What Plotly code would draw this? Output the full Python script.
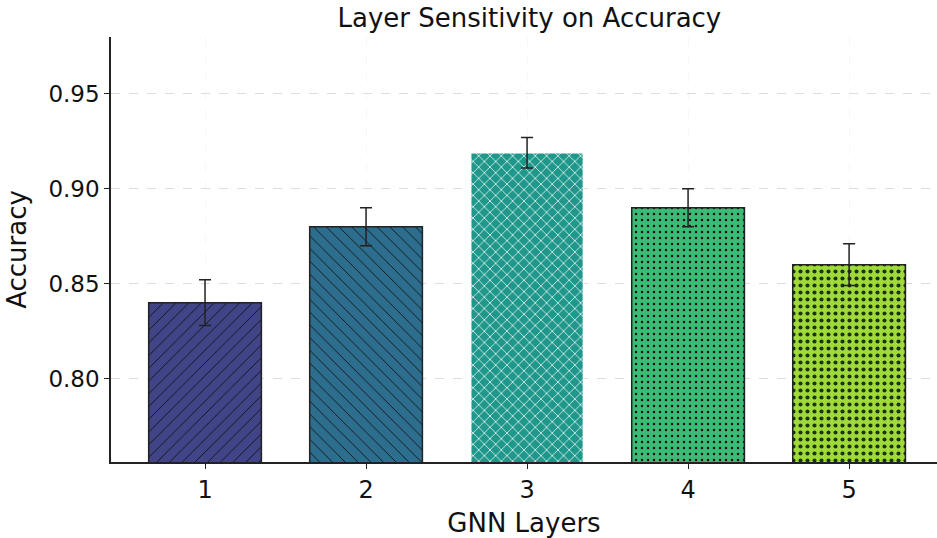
import plotly.graph_objects as go

layers = ["1", "2", "3", "4", "5"]
accuracy = [0.840, 0.880, 0.919, 0.890, 0.860]
errors = [0.012, 0.010, 0.008, 0.010, 0.011]
colors = ["#414487", "#2d6e8e", "#1f988b", "#3bbb75", "#a0da39"]
patterns = ["/", "\\", "x", ".", "."]
pattern_fg = ["#111111", "#111111", "#ffffff", "#111111", "#1a3310"]
edge_colors = ["#222222", "#222222", "#ffffff", "#222222", "#222222"]
pattern_size = [9, 9, 8, 6, 7]
pattern_solid = [0.1, 0.1, 0.17, 0.14, 0.27]
xpos = [1, 2, 3, 4, 5]

fig = go.Figure()
for i in range(len(xpos)):
    fig.add_trace(go.Bar(
        x=[xpos[i]], y=[accuracy[i]], width=0.7,
        marker=dict(
            color=colors[i],
            line=dict(color=edge_colors[i], width=1.5),
            pattern=dict(shape=patterns[i], fgcolor=pattern_fg[i], bgcolor=colors[i],
                         size=pattern_size[i], solidity=pattern_solid[i],
                         fillmode="replace", fgopacity=1),
        ),
        error_y=dict(type="data", array=[errors[i]], visible=True,
                     color="#222222", thickness=1.5, width=6),
        showlegend=False,
    ))

font = "DejaVu Sans"
fig.update_layout(
    width=937, height=538, barmode="overlay",
    margin=dict(l=111, r=0, t=37, b=76),
    paper_bgcolor="white", plot_bgcolor="white",
    font=dict(family=font, color="#111111"),
    title=dict(text="Layer Sensitivity on Accuracy", x=0.565, xanchor="center",
               y=0.967, yanchor="middle", font=dict(size=26, family=font)),
    xaxis=dict(
        range=[0.416, 5.546], tickmode="array", tickvals=xpos, ticktext=layers,
        ticks="outside", ticklen=5, tickcolor="#222", tickwidth=1,
        tickfont=dict(size=24),
        showline=True, linecolor="#222", linewidth=1.5, mirror=False,
        showgrid=True, gridcolor="rgba(0,0,0,0.03)", griddash="dash", gridwidth=1,
        zeroline=False,
        title=dict(text="GNN Layers", font=dict(size=26), standoff=12),
    ),
    yaxis=dict(
        range=[0.756, 0.98], tickmode="array",
        tickvals=[0.80, 0.85, 0.90, 0.95], ticktext=["0.80", "0.85", "0.90", "0.95"],
        ticks="outside", ticklen=5, tickcolor="#222", tickwidth=1,
        tickfont=dict(size=23),
        showline=True, linecolor="#222", linewidth=1.5, mirror=False,
        showgrid=True, gridcolor="#dddddd", griddash="dash", gridwidth=1,
        zeroline=False,
        title=dict(text="Accuracy", font=dict(size=26), standoff=14),
    ),
)

fig.write_html("out.html")
